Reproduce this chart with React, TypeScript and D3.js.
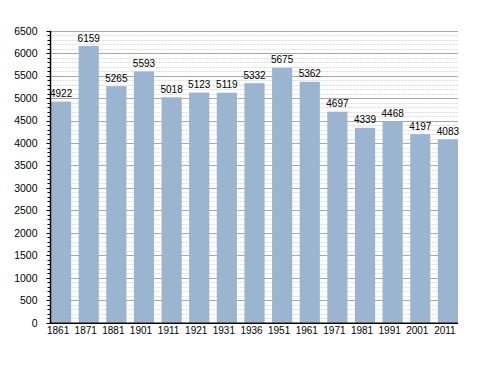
import * as React from 'react';
import { useEffect, useRef } from 'react';
import * as d3 from 'd3';

const years = ['1861', '1871', '1881', '1901', '1911', '1921', '1931', '1936', '1951', '1961', '1971', '1981', '1991', '2001', '2011'];
const population = [4922, 6159, 5265, 5593, 5018, 5123, 5119, 5332, 5675, 5362, 4697, 4339, 4468, 4197, 4083];
const yTicks = [0, 500, 1000, 1500, 2000, 2500, 3000, 3500, 4000, 4500, 5000, 5500, 6000, 6500];

const W = 488;
const H = 373;
const left = 50.5;
const right = 458;
const top = 30.7;
const bottom = 322.7;
const font = 'Liberation Sans, Arial, sans-serif';

export default function App() {
  const ref = useRef<SVGSVGElement>(null);

  useEffect(() => {
    const svg = d3.select(ref.current);
    svg.selectAll('*').remove();

    const x = d3.scaleBand<string>().domain(years).range([left + 0.5, right]).paddingInner(0.27).paddingOuter(0);
    const y = d3.scaleLinear().domain([0, 6500]).range([bottom, top]);

    // minor grid every 100
    const minor = d3.range(100, 6501, 100).filter((v) => v % 500 !== 0);
    svg.append('g').selectAll('line').data(minor).enter().append('line')
      .attr('x1', left).attr('x2', right)
      .attr('y1', (d) => Math.round(y(d)) + 0.5).attr('y2', (d) => Math.round(y(d)) + 0.5)
      .attr('stroke', '#dcdcdc').attr('stroke-width', 1).attr('stroke-dasharray', '2,1');

    svg.append('g').selectAll('line').data(yTicks.slice(1)).enter().append('line')
      .attr('x1', left).attr('x2', right)
      .attr('y1', (d) => Math.round(y(d)) + 0.5).attr('y2', (d) => Math.round(y(d)) + 0.5)
      .attr('stroke', '#a8a8a8').attr('stroke-width', 1);

    // bars
    svg.append('g').selectAll('rect').data(population).enter().append('rect')
      .attr('x', (_, i) => x(years[i]) as number)
      .attr('width', x.bandwidth())
      .attr('y', (d) => y(d))
      .attr('height', (d) => bottom - y(d))
      .attr('fill', '#9bb4cf');

    svg.append('g').selectAll('text').data(population).enter().append('text')
      .attr('x', (_, i) => (x(years[i]) as number) + x.bandwidth() / 2)
      .attr('y', (d) => y(d) - 4.5)
      .attr('text-anchor', 'middle')
      .attr('font-family', font).attr('font-size', 10).attr('fill', '#000')
      .text((d) => d);

    // y axis
    const yAxis = svg.append('g').attr('transform', `translate(${left},0)`);
    yAxis.append('line').attr('x1', 0).attr('x2', 0).attr('y1', top).attr('y2', bottom + 1)
      .attr('stroke', '#000').attr('stroke-width', 1.5);
    yAxis.selectAll('line.minor').data(d3.range(0, 6501, 100)).enter().append('line')
      .attr('class', 'minor')
      .attr('x1', (d) => (d % 500 === 0 ? -4 : -3)).attr('x2', 0)
      .attr('y1', (d) => Math.round(y(d)) + 0.5).attr('y2', (d) => Math.round(y(d)) + 0.5)
      .attr('stroke', '#000').attr('stroke-width', 1);
    yAxis.selectAll('text').data(yTicks).enter().append('text')
      .attr('x', -13).attr('y', (d) => y(d) + 3.8)
      .attr('text-anchor', 'end')
      .attr('font-family', font).attr('font-size', 10.5).attr('fill', '#000')
      .text((d) => d);

    // x axis
    svg.append('line').attr('x1', left - 0.75).attr('x2', right).attr('y1', bottom + 0.5).attr('y2', bottom + 0.5)
      .attr('stroke', '#000').attr('stroke-width', 1.5);
    svg.append('g').selectAll('text').data(years).enter().append('text')
      .attr('x', (d) => (x(d) as number) + x.bandwidth() / 2 - 3)
      .attr('y', bottom + 10.8)
      .attr('text-anchor', 'middle')
      .attr('font-family', font).attr('font-size', 10).attr('fill', '#000')
      .text((d) => d);
  }, []);

  return (
    <svg ref={ref} width={W} height={H} style={{ position: 'absolute', left: 0, top: 0, background: '#fff' }} />
  );
}
